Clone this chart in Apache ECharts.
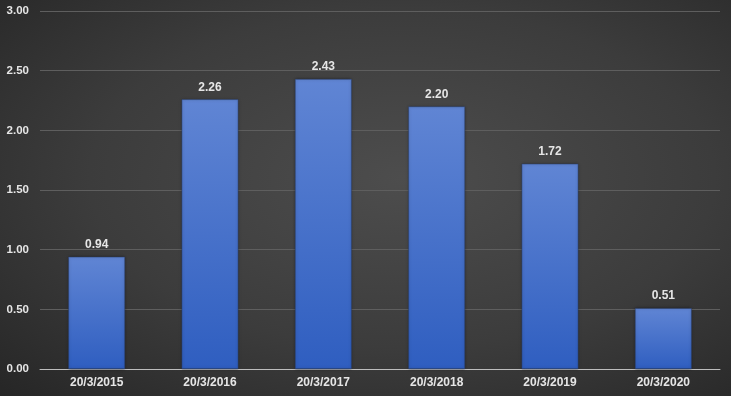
<!DOCTYPE html>
<html><head><meta charset="utf-8">
<script src="https://cdn.jsdelivr.net/npm/echarts@6/dist/echarts.min.js"></script>
<style>html,body{margin:0;padding:0;}#c{width:731px;height:396px;background:radial-gradient(ellipse at 55% 45%, #4d4d4d 0%, #3c3c3c 55%, #262626 100%);}</style>
</head><body><div id="c"></div>
<script>
const categories = ["20/3/2015","20/3/2016","20/3/2017","20/3/2018","20/3/2019","20/3/2020"];
const values = [0.94, 2.26, 2.43, 2.20, 1.72, 0.51];
const yTicks = {min: 0, max: 3, interval: 0.5};

const chart = echarts.init(document.getElementById('c'), null, {renderer: 'canvas'});
chart.setOption({
  backgroundColor: 'transparent',
  animation: false,
  grid: {left: 40, right: 11, top: 11, bottom: 27, containLabel: false},
  xAxis: {
    type: 'category', data: categories,
    axisLine: {lineStyle: {color: '#bdbdbd', width: 1}},
    axisTick: {show: false},
    axisLabel: {color: '#e6e6e6', fontWeight: 'bold', fontSize: 12, fontFamily: 'Liberation Sans, Arial', margin: 8}
  },
  yAxis: {
    type: 'value', min: yTicks.min, max: yTicks.max, interval: yTicks.interval,
    axisLine: {show: false}, axisTick: {show: false},
    splitLine: {lineStyle: {color: '#5e5e5e', width: 1}},
    axisLabel: {color: '#e6e6e6', fontWeight: 'bold', fontSize: 11.5, fontFamily: 'Liberation Sans, Arial', margin: 11,
      formatter: v => v.toFixed(2)}
  },
  series: [{
    type: 'bar', data: values, barWidth: '50%',
    itemStyle: {
      color: new echarts.graphic.LinearGradient(0, 0, 0, 1, [
        {offset: 0, color: '#6085d4'}, {offset: 1, color: '#2f5ec0'}]),
      borderColor: '#2a3f6a', borderWidth: 0.5,
      shadowColor: 'rgba(0,0,0,0.4)', shadowBlur: 3
    },
    label: {show: true, position: 'top', distance: 6, color: '#e6e6e6', fontWeight: 'bold', fontSize: 12,
      fontFamily: 'Liberation Sans, Arial', formatter: p => p.value.toFixed(2)}
  }]
});
</script></body></html>
